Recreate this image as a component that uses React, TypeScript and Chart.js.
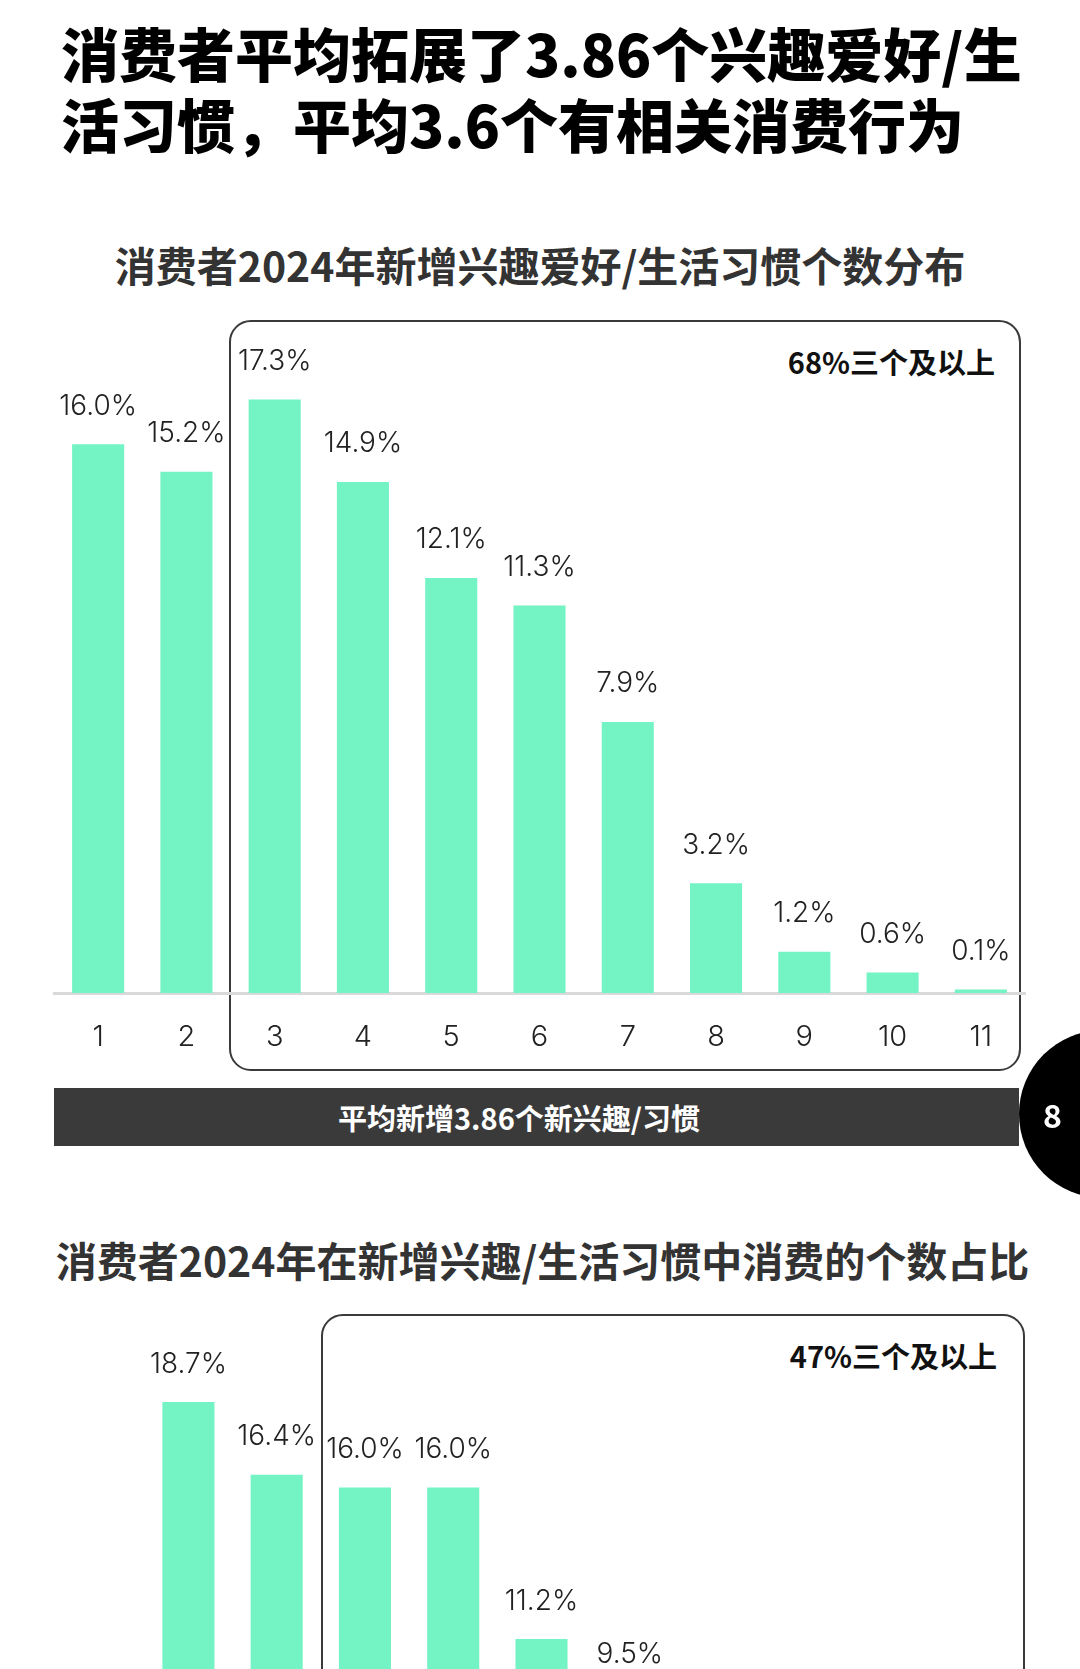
import { useEffect, useRef } from 'react';
import { Chart, registerables, Plugin } from 'chart.js';

Chart.register(...registerables);

const countLabels1 = ['1', '2', '3', '4', '5', '6', '7', '8', '9', '10', '11'];
const newHabitShare = [16.0, 15.2, 17.3, 14.9, 12.1, 11.3, 7.9, 3.2, 1.2, 0.6, 0.1];

// second chart is cut off by the page bottom; only the first bars can be read
const countLabels2 = ['0', '1', '2', '3', '4', '5', '6', '7', '8', '9', '10'];
const spendShare: (number | null)[] = [null, 18.7, 16.4, 16.0, 16.0, 11.2, 9.5, null, null, null, null];

const BAR_COLOR = '#74f3c4';
const LABEL_FONT = 'Inter, "Noto Sans", sans-serif';
const CJK_FONT = '"Noto Sans CJK SC", "Noto Sans", sans-serif';

const valueLabels = (gap: number): Plugin<'bar'> => ({
  id: 'valueLabels',
  afterDatasetsDraw(chart) {
    const { ctx } = chart;
    const meta = chart.getDatasetMeta(0);
    const data = chart.data.datasets[0].data as (number | null)[];
    ctx.save();
    ctx.fillStyle = '#222';
    ctx.font = `300 28px ${LABEL_FONT}`;
    ctx.textAlign = 'center';
    ctx.textBaseline = 'middle';
    meta.data.forEach((bar, i) => {
      const v = data[i];
      if (v == null) return;
      ctx.fillText(`${v.toFixed(1)}%`, bar.x, bar.y - gap);
    });
    ctx.restore();
  },
});

interface BarChartProps {
  labels: string[];
  values: (number | null)[];
  yMax: number;
  padTop: number;
  labelGap: number;
}

const BarChart = ({ labels, values, yMax, padTop, labelGap }: BarChartProps) => {
  const canvasRef = useRef<HTMLCanvasElement | null>(null);

  useEffect(() => {
    if (!canvasRef.current) return;
    const chart = new Chart(canvasRef.current, {
      type: 'bar',
      data: {
        labels,
        datasets: [
          {
            data: values,
            backgroundColor: BAR_COLOR,
            barPercentage: 0.59,
            categoryPercentage: 1,
          },
        ],
      },
      options: {
        animation: false,
        responsive: false,
        layout: { padding: { left: 54, right: 55, top: padTop, bottom: 0 } },
        plugins: { legend: { display: false }, tooltip: { enabled: false } },
        scales: {
          x: {
            grid: { display: false, drawTicks: false },
            border: { display: true, color: '#d9d9d9', width: 3 },
            ticks: {
              color: '#222',
              font: { family: LABEL_FONT, size: 29, weight: 300 },
              padding: 27,
              maxRotation: 0,
              autoSkip: false,
            },
            afterFit: (scale) => {
              scale.height = 87;
            },
          },
          y: { display: false, min: 0, max: yMax },
        },
      },
      plugins: [valueLabels(labelGap)],
    });
    return () => chart.destroy();
  }, [labels, values, yMax, padTop, labelGap]);

  return <canvas ref={canvasRef} width={1080} height={780} style={{ display: 'block', width: 1080 }} />;
};

const boxStyle = (left: number, top: number, width: number, height: number): React.CSSProperties => ({
  position: 'absolute',
  left,
  top,
  width,
  height,
  border: '2.5px solid #3a3a3a',
  borderRadius: 22,
  boxSizing: 'border-box',
});

const App = () => {
  return (
    <div
      style={{
        position: 'absolute',
        left: 0,
        top: 0,
        width: 1080,
        height: 1669,
        overflow: 'hidden',
        background: '#fff',
        fontFamily: CJK_FONT,
      }}
    >
      <div
        style={{
          position: 'absolute',
          left: 61,
          top: 17,
          fontSize: 58,
          lineHeight: '71px',
          fontWeight: 900,
          color: '#000',
          whiteSpace: 'nowrap',
        }}
      >
        消费者平均拓展了3.86个兴趣爱好/生
        <br />
        活习惯，平均3.6个有相关消费行为
      </div>

      <div
        style={{
          position: 'absolute',
          left: 0,
          width: 1080,
          top: 239,
          textAlign: 'center',
          fontSize: 41,
          lineHeight: '50px',
          fontWeight: 700,
          color: '#333',
        }}
      >
        消费者2024年新增兴趣爱好/生活习惯个数分布
      </div>

      <div style={boxStyle(229, 320, 792, 751)} />
      <div
        style={{
          position: 'absolute',
          right: 1080 - 995,
          top: 343,
          fontSize: 29,
          lineHeight: '36px',
          fontWeight: 700,
          color: '#111',
        }}
      >
        68%三个及以上
      </div>

      <div style={{ position: 'absolute', left: 0, top: 300 }}>
        <BarChart labels={countLabels1} values={newHabitShare} yMax={20} padTop={7} labelGap={38} />
      </div>

      <div
        style={{
          position: 'absolute',
          left: 54,
          top: 1088,
          width: 965,
          height: 58,
          background: '#3a3a3a',
        }}
      />
      <div
        style={{
          position: 'absolute',
          left: 219,
          width: 600,
          top: 1088,
          height: 58,
          color: '#fff',
          fontSize: 29,
          fontWeight: 700,
          lineHeight: '58px',
          textAlign: 'center',
        }}
      >
        平均新增3.86个新兴趣/习惯
      </div>
      <div
        style={{
          position: 'absolute',
          left: 1019,
          top: 1030,
          width: 168,
          height: 168,
          borderRadius: '50%',
          background: '#000',
        }}
      />
      <div
        style={{
          position: 'absolute',
          left: 1022,
          width: 61,
          top: 1094,
          textAlign: 'center',
          fontSize: 32,
          lineHeight: '40px',
          fontWeight: 700,
          color: '#fff',
        }}
      >
        8
      </div>

      <div
        style={{
          position: 'absolute',
          left: 0,
          width: 1085,
          top: 1234,
          textAlign: 'center',
          fontSize: 41,
          lineHeight: '50px',
          fontWeight: 700,
          color: '#333',
        }}
      >
        消费者2024年在新增兴趣/生活习惯中消费的个数占比
      </div>

      <div style={boxStyle(321, 1314, 704, 800)} />
      <div
        style={{
          position: 'absolute',
          right: 1080 - 997,
          top: 1337,
          fontSize: 29,
          lineHeight: '36px',
          fontWeight: 700,
          color: '#111',
        }}
      >
        47%三个及以上
      </div>

      <div style={{ position: 'absolute', left: 2, top: 1300 }}>
        <BarChart labels={countLabels2} values={spendShare} yMax={20} padTop={61} labelGap={38} />
      </div>
    </div>
  );
};

export default App;
